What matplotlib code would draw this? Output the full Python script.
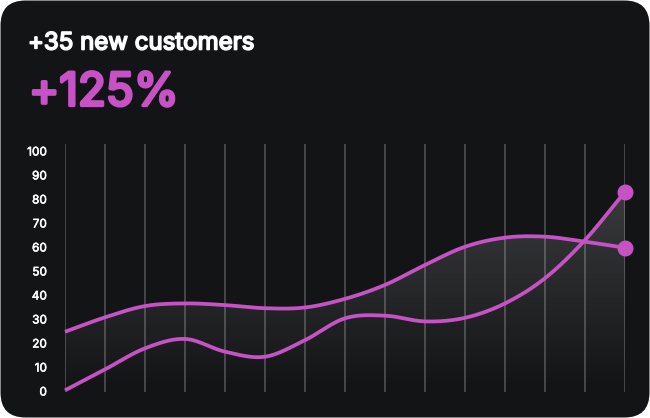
import numpy as np
import matplotlib
matplotlib.use("Agg")
import matplotlib.pyplot as plt
from matplotlib.patches import FancyBboxPatch, Polygon
import matplotlib.patheffects as pe

# ---- data ----
points = list(range(15))
upper = [24.7, 30.7, 35.4, 36.5, 35.8, 34.5, 34.8, 38.4, 44.2, 52.5, 60.1, 63.9, 64.3, 62.2, 59.7]
lower = [0.3, 9, 17.8, 21.7, 16.4, 14.3, 21.2, 30.3, 31.4, 29, 30.5, 36.5, 47, 62.9, 83]
y_ticks = [0, 10, 20, 30, 40, 50, 60, 70, 80, 90, 100]
title = "+35 new customers"
headline = "+125%"

CARD = "#131416"
PINK = "#C752C6"
GRID = "#4b4b4e"

W, H = 650, 418
DPI = 100


def smooth(x, y, n=40):
    """Catmull-Rom (cardinal) spline through the points."""
    x = np.asarray(x, float)
    y = np.asarray(y, float)
    m = np.zeros_like(y)
    m[1:-1] = (y[2:] - y[:-2]) / 2.0
    m[0] = y[1] - y[0]
    m[-1] = y[-1] - y[-2]
    xs, ys = [], []
    for i in range(len(x) - 1):
        t = np.linspace(0, 1, n, endpoint=False)
        h00 = 2 * t**3 - 3 * t**2 + 1
        h10 = t**3 - 2 * t**2 + t
        h01 = -2 * t**3 + 3 * t**2
        h11 = t**3 - t**2
        xs.append(x[i] + t * (x[i + 1] - x[i]))
        ys.append(h00 * y[i] + h10 * m[i] + h01 * y[i + 1] + h11 * m[i + 1])
    xs.append([x[-1]])
    ys.append([y[-1]])
    return np.concatenate(xs), np.concatenate(ys)


fig = plt.figure(figsize=(W / DPI, H / DPI), dpi=DPI)
fig.patch.set_facecolor("white")
card = FancyBboxPatch((0.5 / W, 0.5 / H), 1 - 1 / W, 1 - 1 / H,
                      boxstyle="round,pad=0,rounding_size=%f" % (25 / W),
                      mutation_aspect=W / H,
                      transform=fig.transFigure, facecolor=CARD, edgecolor="none",
                      zorder=-10)
fig.add_artist(card)

left, right = 65, 625
top, bottom = 144, 392
ax = fig.add_axes([left / W, 1 - bottom / H, (right - left) / W, (bottom - top) / H])
ax.set_zorder(1)
ax.set_facecolor("none")
for s in ax.spines.values():
    s.set_visible(False)
ax.set_xticks([])
ax.set_yticks(y_ticks)
ax.set_yticklabels([str(v) for v in y_ticks])
ax.tick_params(axis="y", length=0, pad=13, colors="white", labelsize=8.5)
for lab in ax.get_yticklabels():
    lab.set_fontfamily(["Inter", "DejaVu Sans"])
    lab.set_path_effects([pe.withStroke(linewidth=0.4, foreground="white")])

for p in points:
    ax.axvline(p, color=GRID, lw=1.3, zorder=1)

xu, yu = smooth(points, upper)
xl, yl = smooth(points, lower)

# gradient fill under the max of both curves
ytop = np.maximum(yu, yl)
poly_pts = np.column_stack([np.r_[xu, xu[-1], xu[0]], np.r_[ytop, -0.4, -0.4]])
grad = np.linspace(0, 1, 256).reshape(-1, 1)
cmap = matplotlib.colors.LinearSegmentedColormap.from_list(
    "g", [(1, 1, 1, 0.0), (1, 1, 1, 0.16)])
im = ax.imshow(grad, extent=[points[0], points[-1], -0.4, 80], origin="lower",
               cmap=cmap, aspect="auto", zorder=2, interpolation="bicubic")
clip = Polygon(poly_pts, closed=True, transform=ax.transData, facecolor="none", edgecolor="none")
ax.add_patch(clip)
im.set_clip_path(clip)
ax.set_xlim(points[0], points[-1])
ax.set_ylim(-0.4, 102.9)

ax.plot(xu, yu, color=PINK, lw=2.7, solid_capstyle="butt", zorder=4, clip_on=False)
ax.plot(xl, yl, color=PINK, lw=2.7, solid_capstyle="butt", zorder=4, clip_on=False)
ax.plot([points[-1]], [upper[-1]], "o", color=PINK, ms=10.5, zorder=5, clip_on=False)
ax.plot([points[-1]], [lower[-1]], "o", color=PINK, ms=10.5, zorder=5, clip_on=False)

fig.text(28 / W, 1 - 49.5 / H, title, color="white", fontsize=17.3,
         family=["Inter", "DejaVu Sans"], va="baseline", ha="left",
         path_effects=[pe.withStroke(linewidth=1.2, foreground="white")])
fig.text(29 / W, 1 - 105.5 / H, headline, color=PINK, fontsize=33,
         family=["Inter", "DejaVu Sans"], va="baseline", ha="left",
         path_effects=[pe.withStroke(linewidth=2.3, foreground=PINK)])

fig.savefig("out.png", dpi=DPI, facecolor=fig.get_facecolor())
